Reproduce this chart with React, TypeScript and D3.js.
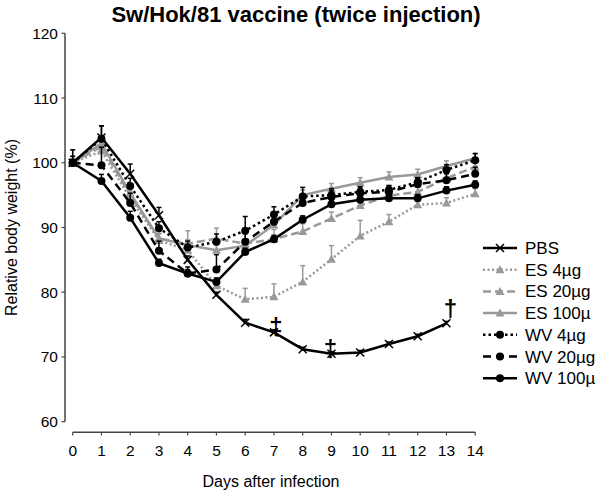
import React from "react";
import * as d3 from "d3";

const days = [0, 1, 2, 3, 4, 5, 6, 7, 8, 9, 10, 11, 12, 13, 14];
const xTicks = days;
const yTicks = [60, 70, 80, 90, 100, 110, 120];

const pbs = [100, 103.9, 98.3, 91.9, 85.0, 79.6, 75.3, 73.8, 71.2, 70.5, 70.7, 72.0, 73.2, 75.2];
const pbsErr = [0.5, 1.8, 1.5, 1.2, 0.6, 0.4, 0.5, 0.4, 0.3, 0.3, 0.3, 0.3, 0.3, 0.3];
const es4 = [100, 101.8, 94.5, 88.0, 86.5, 81.0, 78.9, 79.3, 81.6, 85.1, 88.7, 90.9, 93.5, 93.8, 95.2];
const es4Err = [2.0, 1.0, 1.2, 1.0, 1.5, 1.2, 1.7, 2.0, 2.5, 2.1, 2.4, 1.1, 0.6, 0.8, 0.8];
const es20 = [100, 102.5, 95.0, 88.3, 87.5, 88.3, 87.5, 88.2, 89.4, 91.4, 93.4, 94.9, 95.5, 97.6, 99.4];
const es20Err = [1, 1, 1, 1.5, 2.0, 1.6, 1.5, 1.5, 1.2, 1.0, 1.0, 0.8, 0.8, 0.8, 0.8];
const es100 = [100, 103.0, 95.3, 88.3, 87.3, 86.5, 87.2, 90.4, 95.0, 96.0, 96.9, 97.8, 98.2, 99.5, 100.7];
const es100Err = [0.5, 1, 1, 0.8, 0.8, 0.8, 0.8, 0.8, 0.8, 0.8, 0.8, 0.8, 0.8, 0.8, 0.8];
const wv4 = [100, 103.7, 96.4, 89.9, 86.9, 87.8, 89.5, 92.0, 94.8, 95.0, 95.5, 95.8, 97.0, 98.9, 100.4];
const wv4Err = [2.0, 2.0, 1.2, 1.0, 1.0, 1.2, 2.2, 1.2, 1.4, 1.0, 0.6, 0.6, 0.6, 0.8, 1.0];
const wv20 = [100, 99.6, 93.8, 86.4, 82.9, 83.5, 87.8, 90.9, 93.8, 94.7, 95.3, 95.5, 96.7, 97.3, 98.3];
const wv20Err = [1, 2.8, 1.5, 1.5, 1, 2.3, 1.5, 1.2, 1, 1, 1, 1, 1, 1, 1];
const wv100 = [100, 97.2, 91.5, 84.5, 82.9, 81.6, 86.2, 88.2, 91.2, 93.6, 94.3, 94.5, 94.5, 95.7, 96.6];
const wv100Err = [0.5, 1, 1, 0.6, 0.6, 0.6, 0.6, 0.6, 0.6, 0.6, 0.6, 0.6, 0.6, 0.6, 0.6];

const deathDays = [7, 9, 13];
const deathValues = [74.8, 71.4, 77.5];
const deathSymbols = ["‡", "‡", "†"];

const seriesNames = ["PBS", "ES 4µg", "ES 20µg", "ES 100µ", "WV 4µg", "WV 20µg", "WV 100µ"];

type Series = {
  name: string;
  values: number[];
  err: number[];
  color: string;
  dash: string;
  marker: "x" | "tri" | "circ";
};

const GRAY = "#999999";
const series: Series[] = [
  { name: seriesNames[1], values: es4, err: es4Err, color: GRAY, dash: "2,2.5", marker: "tri" },
  { name: seriesNames[2], values: es20, err: es20Err, color: GRAY, dash: "8,4", marker: "tri" },
  { name: seriesNames[3], values: es100, err: es100Err, color: GRAY, dash: "", marker: "tri" },
  { name: seriesNames[4], values: wv4, err: wv4Err, color: "#000", dash: "2.5,3", marker: "circ" },
  { name: seriesNames[5], values: wv20, err: wv20Err, color: "#000", dash: "8,5", marker: "circ" },
  { name: seriesNames[6], values: wv100, err: wv100Err, color: "#000", dash: "", marker: "circ" },
  { name: seriesNames[0], values: pbs, err: pbsErr, color: "#000", dash: "", marker: "x" },
];
const legendOrder = [6, 0, 1, 2, 3, 4, 5];

const FONT = "Liberation Sans, Arial, Helvetica, sans-serif";

function Marker({ kind, cx, cy, color }: { kind: string; cx: number; cy: number; color: string }) {
  if (kind === "circ") return <circle cx={cx} cy={cy} r={4} fill={color} />;
  if (kind === "tri")
    return (
      <path
        d={`M${cx},${cy - 4.5}L${cx + 4.5},${cy + 3.5}L${cx - 4.5},${cy + 3.5}Z`}
        fill={color}
      />
    );
  const s = 4;
  return (
    <path
      d={`M${cx - s},${cy - s}L${cx + s},${cy + s}M${cx - s},${cy + s}L${cx + s},${cy - s}`}
      stroke={color}
      strokeWidth={1.5}
    />
  );
}

export default function App() {
  const x = d3.scaleLinear().domain([0, 14]).range([72.7, 475.2]);
  const y = d3.scaleLinear().domain([60, 120]).range([421.7, 33.3]);
  const line = d3
    .line<number>()
    .x((_, i) => x(days[i]))
    .y((v) => y(v));

  return (
    <svg
      width={600}
      height={491}
      style={{ position: "absolute", left: 0, top: 0, background: "#fff" }}
      fontFamily={FONT}
    >
      <rect width={600} height={491} fill="#fff" />
      <text x={296} y={22} textAnchor="middle" fontSize={22} fontWeight="bold">
        Sw/Hok/81 vaccine (twice injection)
      </text>

      {/* Y axis */}
      <line x1={65} x2={65} y1={y(120)} y2={y(60)} stroke="#444" strokeWidth={1.5} />
      {yTicks.map((t) => (
        <g key={t}>
          <line x1={61.5} x2={65} y1={y(t)} y2={y(t)} stroke="#444" strokeWidth={1.2} />
          <text x={58} y={y(t) + 5.5} textAnchor="end" fontSize={15.5}>
            {t}
          </text>
        </g>
      ))}
      <text
        transform={`translate(17,${(y(60) + y(120)) / 2}) rotate(-90)`}
        textAnchor="middle"
        fontSize={16}
      >
        Relative body weight (%)
      </text>

      {/* X axis */}
      <line x1={x(0)} x2={x(14)} y1={432.3} y2={432.3} stroke="#444" strokeWidth={1.5} />
      {xTicks.map((t) => (
        <g key={t}>
          <line x1={x(t)} x2={x(t)} y1={432.3} y2={435.5} stroke="#444" strokeWidth={1.2} />
          <text x={x(t)} y={456} textAnchor="middle" fontSize={15.5}>
            {t}
          </text>
        </g>
      ))}
      <text x={271} y={487} textAnchor="middle" fontSize={16}>
        Days after infection
      </text>

      {/* Series */}
      {series.map((s) => (
        <g key={s.name}>
          {s.values.map((v, i) => (
            <g key={i}>
              <line
                x1={x(days[i])}
                x2={x(days[i])}
                y1={y(v)}
                y2={y(v + s.err[i])}
                stroke={s.color}
                strokeWidth={1.5}
              />
              <line
                x1={x(days[i]) - 2.5}
                x2={x(days[i]) + 2.5}
                y1={y(v + s.err[i])}
                y2={y(v + s.err[i])}
                stroke={s.color}
                strokeWidth={1.5}
              />
            </g>
          ))}
          <path
            d={line(s.values) || ""}
            fill="none"
            stroke={s.color}
            strokeWidth={2.5}
            strokeDasharray={s.dash || undefined}
          />
          {s.values.map((v, i) => (
            <Marker key={i} kind={s.marker} cx={x(days[i])} cy={y(v)} color={s.color} />
          ))}
        </g>
      ))}

      {/* Death marks */}
      {deathDays.map((d, i) => (
        <text
          key={i}
          x={x(d) + (i === 0 ? 2 : i === 1 ? -1 : 4)}
          y={y(deathValues[i]) + 9}
          textAnchor="middle"
          fontSize={24}
          fontWeight="bold"
        >
          {deathSymbols[i]}
        </text>
      ))}

      {/* Legend */}
      {legendOrder.map((si, k) => {
        const s = series[si];
        const ly = 248 + k * 21.7;
        return (
          <g key={s.name}>
            <line
              x1={483}
              x2={517}
              y1={ly}
              y2={ly}
              stroke={s.color}
              strokeWidth={2.5}
              strokeDasharray={s.dash || undefined}
            />
            <Marker kind={s.marker} cx={500} cy={ly} color={s.color} />
            <text x={525} y={ly + 6} fontSize={17}>
              {s.name}
            </text>
          </g>
        );
      })}
    </svg>
  );
}
